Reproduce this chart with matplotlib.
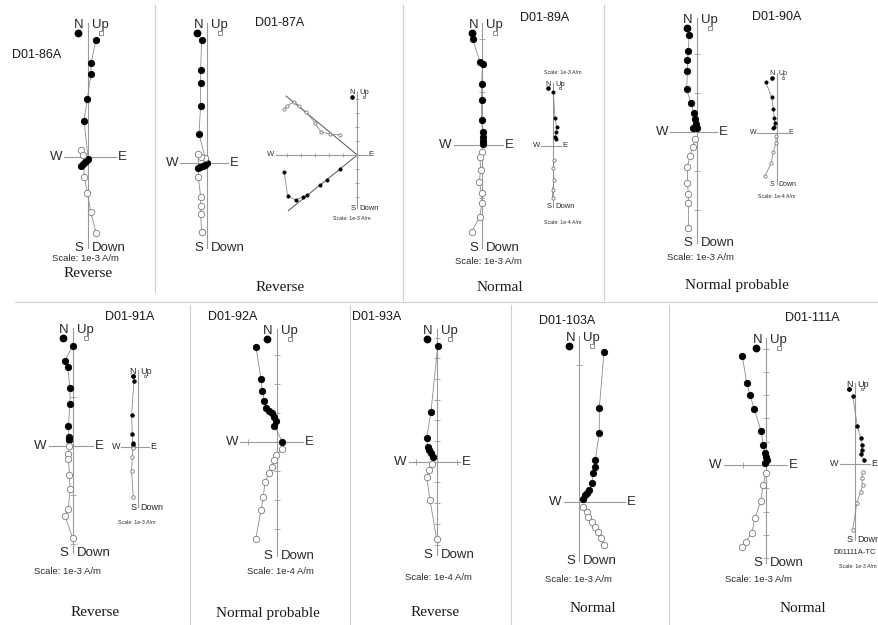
import numpy as np
import matplotlib
matplotlib.use('Agg')
import matplotlib.pyplot as plt
from matplotlib.lines import Line2D

W, H = 879, 625
SANS = 'Liberation Sans'
SERIF = 'Liberation Serif'
AXIS_GREY = '#9a9a9a'
LINE_GREY = '#8c8c8c'
OPEN_EDGE = '#7a7a7a'
TEXT = '#2b2b2b'

names = ['D01-86A', 'D01-87A', 'D01-89A', 'D01-90A', 'D01-91A',
         'D01-92A', 'D01-93A', 'D01-103A', 'D01-111A']
polarity = ['Reverse', 'Reverse', 'Normal', 'Normal probable', 'Reverse',
            'Normal probable', 'Reverse', 'Normal', 'Normal']
scales = ['Scale: 1e-3 A/m', None, 'Scale: 1e-3 A/m', 'Scale: 1e-3 A/m',
          'Scale: 1e-3 A/m', 'Scale: 1e-4 A/m', 'Scale: 1e-4 A/m',
          'Scale: 1e-3 A/m', 'Scale: 1e-3 A/m']

# horizontal projection (filled) and vertical projection (open), plot units
hor_86 = [(8.3, 117), (3.3, 93.7), (3.3, 83), (-0.4, 57.7), (-3.7, 36.3),
          (0.6, -2.3), (-0.4, -3), (-2.7, -5.3), (-5, -7), (-7, -8.7)]
ver_86 = [(-7, 7), (-4.4, 2), (-3.4, -19.7), (-0.4, -35.7), (3, -54.7), (8.3, -75.7)]

hor_87 = [(-5.7, 123.3), (-6.7, 93.3), (-6.7, 80.7), (-6.7, 57.3), (-8.3, 29.3),
          (-0.7, 0), (-2.3, -1.3), (-4.7, -2.7), (-7.3, -3.3), (-9, -5)]
ver_87 = [(-2.3, 5), (-6.7, 6.7), (-9, 9.3), (-9, -13.3), (-6.7, -33.3),
          (-6.7, -42.7), (-6.7, -50.7), (-5.7, -68.3)]
hor_87i = [(-73, -17.3), (-69.7, -41), (-61.7, -45), (-54, -41.7), (-50, -40),
           (-37.3, -30), (-30.7, -25), (-17.3, -14.3)]
ver_87i = [(-73.3, 45.7), (-70, 49), (-63.3, 53.3), (-58.3, 49), (-51.7, 43.3),
           (-42.3, 32.3), (-36.7, 23.3), (-27.3, 21), (-17.3, 20)]
fit_87i = [(-71.3, 59), (-69, -55.7)]

hor_89 = [(-9.7, 105.7), (-2.3, 83.3), (0.3, 80.7), (-0.7, 61), (-0.7, 45),
          (-0.7, 25), (0.3, 13.3), (0.3, 7.7), (0.3, 4.3), (1, 1)]
ver_89 = [(-0.7, -6.7), (-2.3, -11.7), (-1.7, -25), (-3, -36.7), (-0.7, -48.3),
          (-0.7, -58.3), (-2.3, -71.7), (-10.7, -86.7)]
hor_89i = [(0, 54), (1.7, 27.3), (3.3, 19), (2.7, 14), (1.7, 9), (2.7, 6.3)]
ver_89i = [(0.7, -14.3), (0, -22.7), (0.7, -34.3), (-0.7, -44.3), (-0.7, -52.7)]

hor_90 = [(-7.7, 96.7), (-8.3, 81), (-9.3, 71.7), (-9.3, 60.7), (-10, 42.3),
          (-5.7, 28.3), (-2.7, 19), (-1.7, 12.3), (-0.7, 7.7), (-1.7, 5),
          (0.7, 3.3), (-3.3, 3.3)]
ver_90 = [(-1.7, -7.7), (-4, -15), (-6.7, -24.3), (-9.3, -35), (-9.3, -51),
          (-8.3, -62.3), (-8.3, -71), (-8.3, -96.7)]
hor_90i = [(-11, 51), (-5, 35.3), (-3.3, 23.3), (-2.3, 14.3), (-1.7, 9.3),
           (-2.7, 6), (-3.3, 4.3)]
ver_90i = [(-0.7, -3.3), (-0.7, -10), (-3.3, -19), (-5.7, -30.7), (-11.7, -43.3)]

hor_91 = [(0, 100), (-7.7, 85), (-5, 79), (-2.7, 58), (-2.7, 41.3), (-4.3, 20),
          (-3.7, 9), (-3.7, 5.7)]
ver_91 = [(-3.3, -0.3), (-4.3, -8.3), (-4.3, -13.3), (-3.3, -29.3), (-2.7, -43.7),
          (-4.3, -63.3), (-7.7, -70), (0, -92.7)]
hor_91i = [(-4.3, 66), (-6.7, 31.7), (-6, 12.7), (-5.7, 3.3), (-5, 1.7)]
ver_91i = [(-5.7, -1.7), (-6, -10), (-6.7, -24.3), (-5, -50.7)]

hor_92 = [(-20.7, 95), (-15.7, 62.3), (-14.3, 51), (-12.3, 41), (-10.7, 33.3),
          (-7.7, 31), (-4.3, 28.3), (-2.3, 25), (-1, 20.7), (-2.3, 15.7), (5.7, 0)]
ver_92 = [(5.7, -7.7), (-1, -13.3), (-2.3, -18.3), (-4.3, -25), (-7.7, -31.7),
          (-11.7, -40), (-13.3, -55), (-15.7, -68.3), (-21, -97.7)]

hor_93 = [(1, 115.7), (-5.7, 50), (-10, 23.3), (-9, 15), (-7.7, 11.7),
          (-5.7, 8.3), (-3.3, 5)]
ver_93 = [(-4.3, -2.3), (-7.7, -8.3), (-10, -15), (-6.7, -38.3), (0, -77.7)]

hor_103 = [(24.7, 150), (20, 94), (20, 69.7), (16, 42.3), (16, 35.7), (14, 29),
           (12.3, 19), (10, 12.3), (8, 9.7), (5.7, 7.3), (3.3, 3.3)]
ver_103 = [(4, -4.3), (7.3, -9.3), (9, -14.3), (12.3, -19.3), (15.7, -24.3),
           (19, -29.3), (21.3, -36), (24.7, -42.7)]

hor_111 = [(-23.7, 109), (-19.3, 82.3), (-16, 70), (-11.7, 55.7), (-5, 34.3),
           (-2.7, 20), (-1, 11.7), (0, 8.3), (0.7, 5), (-1, 2.3)]
ver_111 = [(0, -7.7), (-2.7, -20), (-5.3, -35.7), (-11, -53.3), (-14.3, -67.7),
           (-20, -76.7), (-23.7, -82.3)]
hor_111i = [(-2.3, 68), (2.3, 38.3), (5.7, 25.7), (6.7, 19), (6.7, 14), (5.7, 10), (9, 4)]
ver_111i = [(7.7, -7.7), (6.7, -14.3), (7.7, -21), (5.7, -27.7), (1.7, -39.3), (-2.3, -66)]


def ftext(fig, x, y, s, **kw):
    """ Text placed in pixel coordinates of the figure.
    """
    fig.text(x / W, 1 - y / H, s, ha='center', va='center', **kw)


def zijderveld(fig, origin, extent, hor, ver, step=None, k=1.0, fs=9.5, fits=()):
    """ Draw one orthogonal (Zijderveld) projection diagram.

    Args:
        origin: (x, y) pixel position of the axes cross
        extent: top, bottom, left, right lengths of the axes, pixels
        hor, ver: lists of (x, y) points of the two projections
    """
    ox, oy = origin
    top, bot, left, right = extent
    ax = fig.add_axes([(ox - left) / W, 1 - (oy + bot) / H,
                       (left + right) / W, (top + bot) / H])
    ax.set_xlim(-left, right)
    ax.set_ylim(-bot, top)
    ax.patch.set_visible(False)
    ax.spines[['top', 'right']].set_visible(False)
    for s in ['left', 'bottom']:
        ax.spines[s].set_position('zero')
        ax.spines[s].set_color(AXIS_GREY)
        ax.spines[s].set_linewidth(0.8)
    if step:
        ax.set_yticks(np.r_[-np.arange(step, bot - 2, step), np.arange(step, top - 2, step)])
        ax.set_xticks(np.r_[-np.arange(step, left - 2, step), np.arange(step, right - 2, step)])
    else:
        ax.set_xticks([])
        ax.set_yticks([])
    ax.tick_params(direction='inout', length=4.5 * k, width=0.6, color=AXIS_GREY,
                   labelleft=False, labelbottom=False)

    ms = 4.6 * k
    for x0, y0, x1, y1 in fits:
        ax.plot([x0, x1], [y0, y1], color='#555555', lw=0.7, clip_on=False, zorder=2)
    for pts, face, edge in ((hor, 'black', 'black'), (ver, 'white', OPEN_EDGE)):
        x, y = zip(*pts)
        ax.plot(x, y, '-', color=LINE_GREY, lw=0.6, clip_on=False, zorder=3)
        ax.plot(x, y, 'o', ms=ms, mfc=face, mec=edge, mew=0.6, clip_on=False, zorder=4)

    # legend symbols under N and Up
    ax.plot(-10 * k, top - 10 * k, 'o', ms=ms, color='black', clip_on=False, zorder=4)
    ax.plot(13 * k, top - 10 * k, 's', ms=ms * 0.75, mfc='white', mec=OPEN_EDGE,
            mew=0.6, clip_on=False, zorder=4)

    g = 4 * k
    t = dict(fontsize=fs, color=TEXT, family=SANS, va='center', clip_on=False)
    ax.text(-g, top - 2 * k, 'N', ha='right', **t)
    ax.text(g, top - 2 * k, 'Up', ha='left', **t)
    ax.text(-g, -bot, 'S', ha='right', **t)
    ax.text(g, -bot, 'Down', ha='left', **t)
    ax.text(-left - 2 * k, 0, 'W', ha='right', **t)
    ax.text(right + 2 * k, 0, 'E', ha='left', **t)
    return ax


def main():
    fig = plt.figure(figsize=(W / 100, H / 100), dpi=100)

    seps = [(155, 5, 155, 292), (403, 5, 403, 300), (604, 5, 604, 300),
            (15, 302, 879, 302), (190, 305, 190, 625), (350, 305, 350, 625),
            (511, 305, 511, 625), (669, 305, 669, 625)]
    for x0, y0, x1, y1 in seps:
        fig.add_artist(Line2D([x0 / W, x1 / W], [1 - y0 / H, 1 - y1 / H],
                              color='#cfcfcf', lw=0.8))

    projections = [(hor_86, ver_86), (hor_87, ver_87), (hor_89, ver_89),
                   (hor_90, ver_90), (hor_91, ver_91), (hor_92, ver_92),
                   (hor_93, ver_93), (hor_103, ver_103), (hor_111, ver_111)]
    layout = [
        dict(origin=(87.7, 157), extent=(134, 91, 23.7, 28), step=None,
             name=(37, 55), pol=(88, 273), scale=(85, 258)),
        dict(origin=(207.3, 163.3), extent=(140.6, 85, 27, 20.7), step=None,
             name=(280, 23), pol=(280, 287), scale=None),
        dict(origin=(482.3, 145), extent=(122.3, 103.3, 28.6, 20.7), step=53,
             name=(545, 18), pol=(500, 287), scale=(488, 262)),
        dict(origin=(696.7, 131.7), extent=(113.4, 111, 26.4, 20.6), step=39,
             name=(777, 17), pol=(737, 285), scale=(700, 257)),
        dict(origin=(72.7, 445.7), extent=(117.4, 107.6, 24, 20.3), step=49,
             name=(130, 317), pol=(95, 612), scale=(67, 572)),
        dict(origin=(276.7, 441.7), extent=(112.4, 114, 36.4, 26.3), step=29,
             name=(233, 317), pol=(268, 613), scale=(280, 572)),
        dict(origin=(436.7, 461.7), extent=(132.4, 93.3, 28, 23), step=20.7,
             name=(377, 317), pol=(435, 612), scale=(438, 577)),
        dict(origin=(579.3, 502.3), extent=(166.3, 58.4, 15.6, 45.4), step=137,
             name=(567, 321), pol=(593, 608), scale=(578, 579)),
        dict(origin=(766, 465), extent=(126.7, 98.3, 42.3, 21), step=23.3,
             name=(812, 318), pol=(803, 608), scale=(758, 580)),
    ]
    for i, lay in enumerate(layout):
        hor, ver = projections[i]
        zijderveld(fig, lay['origin'], lay['extent'], hor, ver, step=lay['step'])
        ftext(fig, *lay['name'], names[i], fontsize=9, color='#1a1a1a', family=SANS)
        ftext(fig, *lay['pol'], polarity[i], fontsize=11, color='#1a1a1a', family=SERIF)
        if scales[i]:
            ftext(fig, *lay['scale'], scales[i], fontsize=6.8, color=TEXT, family=SANS)

    fits = [(0, 0, fx, fy) for fx, fy in fit_87i]
    insets = [
        dict(origin=(357.3, 155), extent=(63.3, 53, 81.6, 10.4), data=(hor_87i, ver_87i),
             step=14, k=0.5, fs=5.5, fits=fits, texts=[((352, 218), 'Scale: 1e-3 A/m')]),
        dict(origin=(553.3, 145.7), extent=(62.7, 61, 12, 7.7), data=(hor_89i, ver_89i),
             step=None, k=0.5, fs=5.5, fits=(),
             texts=[((563, 72), 'Scale: 1e-3 A/m'), ((563, 223), 'Scale: 1e-4 A/m')]),
        dict(origin=(776.7, 132.7), extent=(60, 51.3, 19.4, 11), data=(hor_90i, ver_90i),
             step=None, k=0.5, fs=5, fits=(), texts=[((777, 197), 'Scale: 1e-4 A/m')]),
        dict(origin=(138.3, 446.7), extent=(76.7, 60.6, 17, 11), data=(hor_91i, ver_91i),
             step=None, k=0.55, fs=6.5, fits=(), texts=[((137, 522), 'Scale: 1e-3 A/m')]),
        dict(origin=(855, 464), extent=(80.7, 76, 15, 15), data=(hor_111i, ver_111i),
             step=None, k=0.55, fs=6.5, fits=(),
             texts=[((855, 553), 'D01111A-TC'), ((858, 567), 'Scale: 1e-3 A/m')]),
    ]
    for ins in insets:
        hor, ver = ins['data']
        zijderveld(fig, ins['origin'], ins['extent'], hor, ver, step=ins['step'],
                   k=ins['k'], fs=ins['fs'], fits=ins['fits'])
        for (x, y), s in ins['texts']:
            size = 5.5 if s.startswith('D01') else 3.8
            ftext(fig, x, y, s, fontsize=size, color=TEXT, family=SANS)

    fig.savefig('out.png', dpi=100)


if __name__ == '__main__':
    main()
